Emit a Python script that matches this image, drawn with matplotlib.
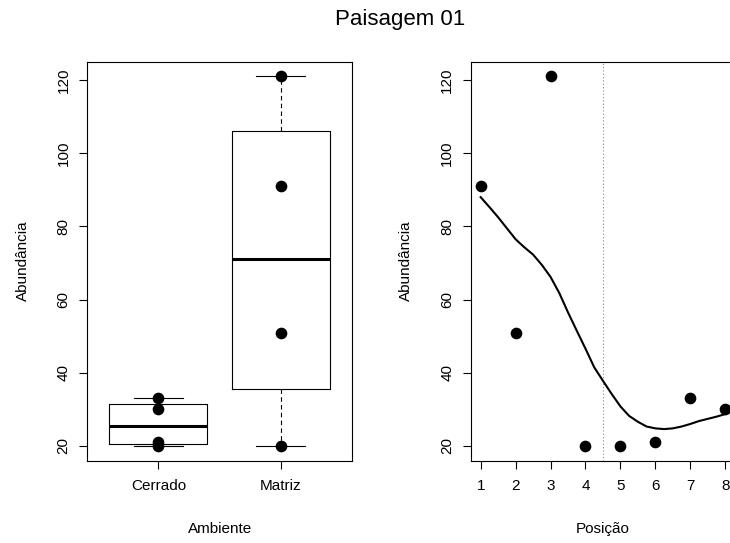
import numpy as np
import matplotlib
matplotlib.use("Agg")
import matplotlib.pyplot as plt

plt.rcParams['font.family'] = ['Liberation Sans', 'DejaVu Sans']

# ---- data ----
title = "Paisagem 01"
posicao = [1, 2, 3, 4, 5, 6, 7, 8]
abundancia = [91, 51, 121, 20, 20, 21, 33, 30]
ambientes = ["Cerrado", "Matriz"]
cerrado = [20, 21, 33, 30]
matriz = [91, 51, 121, 20]
curve_x = [1, 1.25, 1.5, 1.75, 2, 2.25, 2.5, 2.75, 3, 3.25, 3.5, 3.75, 4,
           4.25, 4.5, 4.75, 5, 5.25, 5.5, 5.75, 6, 6.25, 6.5, 6.75, 7,
           7.25, 7.5, 7.75, 8]
curve_y = [88.0, 85.3, 82.5, 79.5, 76.5, 74.3, 72.3, 69.5, 66.2, 61.8, 56.5,
           51.5, 46.6, 41.5, 37.8, 34.2, 30.8, 28.2, 26.6, 25.3, 24.8, 24.6,
           24.8, 25.3, 26.0, 26.8, 27.4, 28.0, 28.7]
boundary = 4.5
yticks = [20, 40, 60, 80, 100, 120]

W, H = 730, 543
fig = plt.figure(figsize=(W / 100, H / 100), dpi=100)

def px_axes(x0, x1, y0, y1):
    return fig.add_axes([x0 / W, 1 - y1 / H, (x1 - x0) / W, (y1 - y0) / H])

FS = 11

def fivenum(v):
    x = np.sort(np.asarray(v, float))
    n = len(x)
    n4 = np.floor((n + 3) / 2) / 2
    d = np.array([1, n4, (n + 1) / 2, n + 1 - n4, n]) - 1
    return 0.5 * (x[np.floor(d).astype(int)] + x[np.ceil(d).astype(int)])

def style_axes(ax):
    for s in ax.spines.values():
        s.set_linewidth(0.8)
        s.set_color('black')
    ax.tick_params(direction='out', length=6, width=0.8, labelsize=FS, colors='black')
    ax.tick_params(axis='x', pad=7.5)
    ax.tick_params(axis='y', pad=6)
    ax.set_yticks(yticks)
    for lab in ax.get_yticklabels():
        lab.set_rotation(90)
        lab.set_va('center')
        lab.set_ha('right')

ymin, ymax = min(abundancia), max(abundancia)
yr = ymax - ymin
ylim = (ymin - 0.04 * yr, ymax + 0.04 * yr)

# ---- left: boxplot ----
ax1 = px_axes(87.3, 352, 61.7, 460.7)
stats = []
for name, vals in zip(ambientes, [cerrado, matriz]):
    f = fivenum(vals)
    iqr = f[3] - f[1]
    v = np.asarray(vals, float)
    lo = v[v >= f[1] - 1.5 * iqr].min()
    hi = v[v <= f[3] + 1.5 * iqr].max()
    stats.append(dict(med=f[2], q1=f[1], q3=f[3], whislo=lo, whishi=hi, fliers=[], label=name))
ax1.bxp(stats, positions=[1, 2], widths=0.8, capwidths=0.4, showfliers=False,
        boxprops=dict(color='black', linewidth=0.8),
        whiskerprops=dict(color='black', linewidth=0.8, linestyle=(0, (4, 3))),
        capprops=dict(color='black', linewidth=0.8),
        medianprops=dict(color='black', linewidth=2.2, solid_capstyle='butt'))
for i, vals in enumerate([cerrado, matriz]):
    ax1.plot([i + 1] * len(vals), vals, 'o', color='black', ms=8.4, mew=0, zorder=5)
ax1.set_xlim(0.42, 2.58)
ax1.set_ylim(*ylim)
style_axes(ax1)
ax1.set_xticks([1, 2])
ax1.set_xticklabels(ambientes)

# ---- right: scatter + smooth ----
ax2 = px_axes(470.9, 735, 61.7, 460.7)
xr = max(posicao) - min(posicao)
ax2.set_xlim(min(posicao) - 0.04 * xr, max(posicao) + 0.04 * xr)
ax2.set_ylim(*ylim)
ax2.axvline(boundary, color='#888888', linewidth=0.8, linestyle=(0, (1, 2)))
ax2.plot(curve_x, curve_y, color='black', linewidth=1.5)
ax2.plot(posicao, abundancia, 'o', color='black', ms=8.4, mew=0, zorder=5)
style_axes(ax2)
ax2.set_xticks(posicao)

# ---- labels ----
fig.text(23 / W, 1 - 261 / H, "Abundância", rotation=90, ha='center', va='center', fontsize=FS)
fig.text(406 / W, 1 - 261 / H, "Abundância", rotation=90, ha='center', va='center', fontsize=FS)
fig.text(219.6 / W, 1 - 529 / H, "Ambiente", ha='center', va='center', fontsize=FS)
fig.text(603 / W, 1 - 529 / H, "Posição", ha='center', va='center', fontsize=FS)
fig.text(400 / W, 1 - 19 / H, title, ha='center', va='center', fontsize=16)

fig.savefig("out.png", dpi=100)
